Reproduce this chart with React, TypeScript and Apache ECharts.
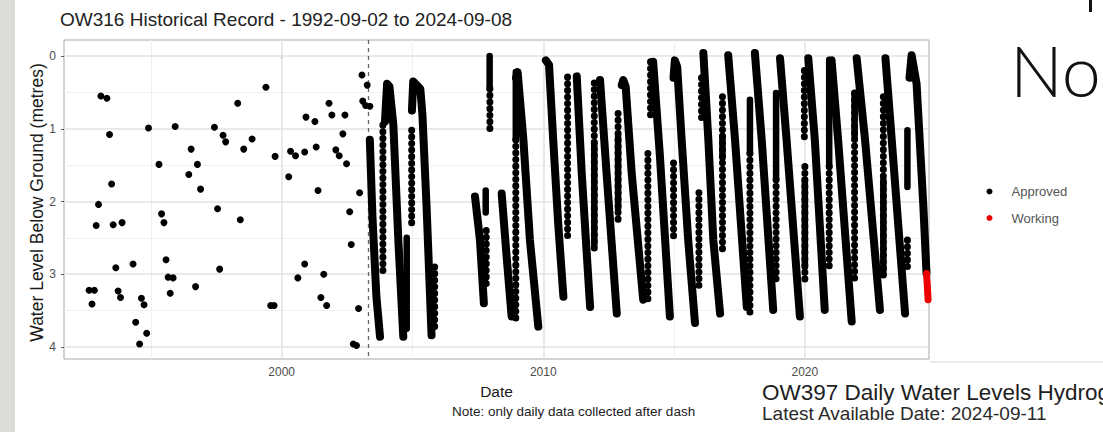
import React, { useEffect, useRef } from 'react';
import * as echarts from 'echarts';

const titleText = 'OW316 Historical Record - 1992-09-02 to 2024-09-08';
const yAxisTitle = 'Water Level Below Ground (metres)';
const xAxisTitle = 'Date';
const noteText = 'Note: only daily data collected after dash';
const otherTitle = 'OW397 Daily Water Levels Hydrograph';
const otherSubtitle = 'Latest Available Date: 2024-09-11';
const slideText = 'No';
const legendNames = ['Approved', 'Working'];

const xTickValues = [2000, 2010, 2020];
const xMinorGrid = [1995, 2005, 2015];
const yTickValues = [0, 1, 2, 3, 4];
const yMinorGrid = [0.5, 1.5, 2.5, 3.5];
const dashYear = 2003.32;

// Manual (pre-daily) measurements: [decimal year, metres below ground]
const manualPoints = [
  [1992.64, 3.22], [1992.84, 3.22], [1992.75, 3.41], [1993.0, 2.04], [1992.91, 2.33],
  [1993.09, 0.55], [1993.32, 0.58], [1993.42, 1.08], [1993.5, 1.76], [1993.56, 2.32],
  [1993.9, 2.29], [1993.66, 2.91], [1993.75, 3.23], [1993.84, 3.32], [1994.32, 2.86],
  [1994.42, 3.66], [1994.64, 3.33], [1994.74, 3.42], [1994.57, 3.96], [1994.84, 3.81],
  [1994.91, 0.99], [1995.31, 1.49], [1995.41, 2.17], [1995.5, 2.29], [1995.58, 2.8],
  [1995.66, 3.04], [1995.85, 3.05], [1995.74, 3.26], [1995.93, 0.97], [1996.54, 1.28],
  [1996.45, 1.63], [1996.78, 1.49], [1996.9, 1.83], [1996.71, 3.17], [1997.43, 0.98],
  [1997.76, 1.09], [1997.86, 1.18], [1997.55, 2.1], [1997.63, 2.93], [1998.32, 0.65],
  [1998.55, 1.28], [1998.87, 1.14], [1998.42, 2.25], [1999.4, 0.43], [1999.75, 1.38],
  [1999.58, 3.43], [1999.71, 3.43], [2000.27, 1.66], [2000.34, 1.31], [2000.53, 1.37],
  [2000.88, 1.32], [2000.62, 3.05], [2000.88, 2.86], [2000.93, 0.84], [2001.27, 0.9],
  [2001.32, 1.25], [2001.39, 1.85], [2001.61, 3.0], [2001.5, 3.32], [2001.72, 3.43],
  [2001.81, 0.65], [2001.92, 0.81], [2002.07, 1.29], [2002.2, 1.37], [2002.42, 0.81],
  [2002.34, 1.07], [2002.48, 1.48], [2002.6, 2.14], [2002.66, 2.59], [2002.98, 1.88],
  [2002.94, 3.47], [2002.74, 3.96], [2002.86, 3.98], [2003.07, 0.26], [2003.27, 0.4],
  [2003.1, 0.62], [2003.21, 0.68], [2003.37, 0.69],
];

// Daily record, yearly recession limbs (read vertices): [decimal year, metres]
const dailyFalls = [
  [[2003.37, 1.15], [2003.47, 2.2], [2003.62, 3.3], [2003.76, 3.86]],
  [[2003.95, 0.9], [2004.03, 0.38], [2004.12, 0.42], [2004.27, 0.95], [2004.46, 2.53], [2004.65, 3.86]],
  [[2004.98, 0.75], [2005.03, 0.35], [2005.3, 0.45], [2005.38, 0.8], [2005.54, 2.07], [2005.73, 3.84]],
  [[2007.39, 1.93], [2007.58, 2.53], [2007.73, 3.4]],
  [[2008.41, 1.89], [2008.6, 2.76], [2008.79, 3.58]],
  [[2008.96, 0.3], [2009.02, 0.22], [2009.24, 1.15], [2009.49, 2.53], [2009.81, 3.72]],
  [[2010.1, 0.06], [2010.22, 0.12], [2010.38, 1.15], [2010.57, 2.3], [2010.77, 3.31]],
  [[2011.28, 0.28], [2011.47, 1.61], [2011.79, 3.45]],
  [[2012.17, 0.33], [2012.42, 1.61], [2012.81, 3.54]],
  [[2013.0, 0.4], [2013.06, 0.33], [2013.15, 0.42], [2013.38, 1.61], [2013.82, 3.35]],
  [[2014.2, 0.08], [2014.46, 1.38], [2014.84, 3.58]],
  [[2014.98, 0.3], [2015.03, 0.06], [2015.12, 0.15], [2015.29, 1.15], [2015.54, 2.53], [2015.8, 3.67]],
  [[2016.12, -0.04], [2016.31, 1.15], [2016.5, 2.53], [2016.76, 3.54]],
  [[2017.07, -0.01], [2017.33, 1.15], [2017.78, 3.45]],
  [[2018.09, -0.04], [2018.35, 1.15], [2018.79, 3.49]],
  [[2019.05, 0.03], [2019.3, 1.15], [2019.81, 3.58]],
  [[2020.13, 0.03], [2020.38, 1.15], [2020.76, 3.49]],
  [[2021.02, 0.06], [2021.27, 1.15], [2021.79, 3.65]],
  [[2021.98, 0.03], [2022.3, 1.15], [2022.87, 3.49]],
  [[2023.08, 0.03], [2023.32, 1.15], [2023.83, 3.54]],
  [[2024.0, 0.3], [2024.08, -0.01], [2024.27, 0.38], [2024.53, 2.07], [2024.65, 2.99]],
];

// Recharge columns, densely sampled parts: [decimal year, top metres, bottom metres]
const denseColumns = [
  [2004.78, 2.5, 3.75], [2007.95, 0.0, 0.45], [2008.95, 0.22, 1.15], [2011.95, 1.2, 2.6],
  [2012.86, 1.1, 2.1], [2016.85, 1.1, 1.4], [2017.9, 0.6, 1.34], [2018.9, 0.51, 1.7],
  [2020.0, 1.7, 2.9], [2020.93, 0.05, 1.52], [2021.9, 0.51, 1.1], [2023.0, 1.7, 3.0],
  [2023.92, 1.02, 1.8], [2007.8, 1.85, 2.15],
];

// Recharge columns, sparsely sampled parts: [decimal year, top metres, bottom metres]
const dottedColumns = [
  [2003.87, 0.95, 2.95], [2004.97, 1.02, 2.3], [2005.85, 2.9, 3.76], [2007.96, 0.45, 1.02],
  [2007.82, 2.4, 3.2], [2008.95, 1.15, 3.6], [2010.93, 0.29, 2.53], [2011.95, 0.37, 2.71],
  [2012.86, 0.79, 2.25], [2014.0, 1.34, 3.35], [2014.1, 0.08, 0.88], [2014.98, 1.47, 2.48],
  [2015.95, 1.88, 3.17], [2016.05, 0.3, 0.9], [2016.85, 0.56, 2.71], [2017.9, 1.34, 3.6],
  [2018.9, 1.7, 3.1], [2019.98, 0.2, 1.15], [2020.0, 1.52, 3.08], [2020.93, 1.52, 2.9],
  [2021.9, 0.51, 3.08], [2023.0, 0.56, 3.08], [2023.92, 2.53, 2.9],
];

// Provisional (working) data at the end of the record
const workingSegment = [[2024.65, 2.99], [2024.68, 3.15], [2024.71, 3.35]];

const FONT = '"Liberation Sans", Arial, Helvetica, sans-serif';

export default function App() {
  const ref = useRef<HTMLDivElement>(null);

  useEffect(() => {
    if (!ref.current) return;
    const chart = echarts.init(ref.current, undefined, { renderer: 'svg' });

    const gridLines: any[] = [
      ...xMinorGrid.map((v) => ({ xAxis: v, lineStyle: { color: '#f0f0f0', width: 1, type: 'solid' } })),
      ...yMinorGrid.map((v) => ({ yAxis: v, lineStyle: { color: '#f0f0f0', width: 1, type: 'solid' } })),
      ...xTickValues.map((v) => ({ xAxis: v, lineStyle: { color: '#e2e2e2', width: 1.5, type: 'solid' } })),
      ...yTickValues.map((v) => ({ yAxis: v, lineStyle: { color: '#e2e2e2', width: 1.5, type: 'solid' } })),
      { xAxis: dashYear, lineStyle: { color: '#666', width: 1.3, type: [4, 4] } },
    ];

    const black = '#000';
    const series: any[] = [
      {
        name: '__grid',
        type: 'line',
        data: [],
        silent: true,
        z: 1,
        markLine: {
          silent: true,
          symbol: ['none', 'none'],
          label: { show: false },
          z: 1,
          animation: false,
          data: gridLines,
        },
      },
      {
        name: 'Approved',
        type: 'scatter',
        data: manualPoints,
        symbolSize: 7,
        itemStyle: { color: black, opacity: 1 },
        z: 3,
        silent: true,
      },
    ];

    dailyFalls.forEach((seg) => {
      series.push({
        name: 'Approved',
        type: 'line',
        data: seg,
        showSymbol: false,
        symbol: 'none',
        silent: true,
        z: 3,
        lineStyle: { color: black, width: 8, cap: 'round', join: 'round' },
        itemStyle: { color: black },
      });
    });

    denseColumns.forEach(([x, t, b]) => {
      series.push({
        name: 'Approved',
        type: 'line',
        data: [[x, t], [x, b]],
        showSymbol: false,
        symbol: 'none',
        silent: true,
        z: 3,
        lineStyle: { color: black, width: 6.5, cap: 'round' },
        itemStyle: { color: black },
      });
    });

    dottedColumns.forEach(([x, t, b]) => {
      series.push({
        name: 'Approved',
        type: 'line',
        data: [[x, t], [x, b]],
        showSymbol: false,
        symbol: 'none',
        silent: true,
        z: 3,
        lineStyle: { color: black, width: 7, cap: 'round', type: [0.1, 6.5] },
        itemStyle: { color: black },
      });
    });

    series.push({
      name: 'Working',
      type: 'line',
      data: workingSegment,
      showSymbol: false,
      symbol: 'none',
      silent: true,
      z: 4,
      lineStyle: { color: '#ee0000', width: 7, cap: 'round' },
      itemStyle: { color: '#ee0000' },
    });

    const option: any = {
      animation: false,
      backgroundColor: '#ffffff',
      grid: {
        left: 64,
        top: 40,
        width: 865,
        height: 319,
        show: true,
        borderColor: '#a8a8a8',
        borderWidth: 1,
        backgroundColor: 'transparent',
        z: 0,
      },
      legend: {
        data: legendNames.map((n) => ({ name: n, icon: 'circle' })),
        orient: 'vertical',
        left: 981.5,
        top: 179.5,
        itemWidth: 34,
        itemHeight: 6,
        itemGap: 12.5,
        selectedMode: false,
        textStyle: { fontFamily: FONT, fontSize: 13, color: '#555', lineHeight: 14 },
      },
      xAxis: {
        type: 'value',
        min: 1991.68,
        max: 2024.745,
        axisLine: { show: false },
        splitLine: { show: false },
        axisTick: { show: true, length: 3, lineStyle: { color: '#555' }, customValues: xTickValues },
        axisLabel: {
          show: true,
          customValues: xTickValues,
          fontFamily: FONT,
          fontSize: 12,
          color: '#4d4d4d',
          margin: 7,
          formatter: (v: number) => String(Math.round(v)),
        },
      },
      yAxis: {
        type: 'value',
        inverse: true,
        min: -0.22,
        max: 4.165,
        axisLine: { show: false },
        splitLine: { show: false },
        axisTick: { show: true, length: 3, lineStyle: { color: '#555' }, customValues: yTickValues },
        axisLabel: {
          show: true,
          customValues: yTickValues,
          fontFamily: FONT,
          fontSize: 12,
          color: '#4d4d4d',
          margin: 8,
          formatter: (v: number) => String(Math.round(v)),
        },
      },
      series,
      graphic: [
        { type: 'rect', left: 0, top: 0, shape: { x: 0, y: 0, width: 15, height: 432 }, style: { fill: '#dedcd7' }, z: 0 },
        { type: 'line', shape: { x1: 930, y1: 362, x2: 1103, y2: 362 }, style: { stroke: '#d6d6d6', lineWidth: 1 } },
        { type: 'rect', shape: { x: 1089, y: 0, width: 3, height: 12 }, style: { fill: '#111' } },
        {
          type: 'text', x: 60, y: 19,
          style: { text: titleText, fontFamily: FONT, fontSize: 19, fill: '#222', align: 'left', verticalAlign: 'middle' },
        },
        {
          type: 'text', x: 36.5, y: 202.5, rotation: Math.PI / 2,
          style: { text: yAxisTitle, fontFamily: FONT, fontSize: 17.5, fill: '#1a1a1a', align: 'center', verticalAlign: 'middle' },
        },
        {
          type: 'text', x: 496.5, y: 391,
          style: { text: xAxisTitle, fontFamily: FONT, fontSize: 15.5, fill: '#1a1a1a', align: 'center', verticalAlign: 'middle' },
        },
        {
          type: 'text', x: 452, y: 411,
          style: { text: noteText, fontFamily: FONT, fontSize: 13.5, fill: '#222', align: 'left', verticalAlign: 'middle' },
        },
        {
          type: 'text', x: 762, y: 392,
          style: { text: otherTitle, fontFamily: FONT, fontSize: 22.5, fill: '#1e1e1e', align: 'left', verticalAlign: 'middle' },
        },
        {
          type: 'text', x: 762, y: 413,
          style: { text: otherSubtitle, fontFamily: FONT, fontSize: 19, fill: '#2a2a2a', align: 'left', verticalAlign: 'middle' },
        },
        {
          type: 'text', x: 1010, y: 70,
          style: { text: slideText, fontFamily: 'Lato, "Open Sans", sans-serif', fontWeight: 300, fontSize: 70, fill: '#111', align: 'left', verticalAlign: 'middle' },
        },
      ],
    };

    chart.setOption(option);
    return () => chart.dispose();
  }, []);

  return (
    <div
      ref={ref}
      style={{ position: 'absolute', left: 0, top: 0, width: 1103, height: 432, background: '#fff' }}
    />
  );
}
